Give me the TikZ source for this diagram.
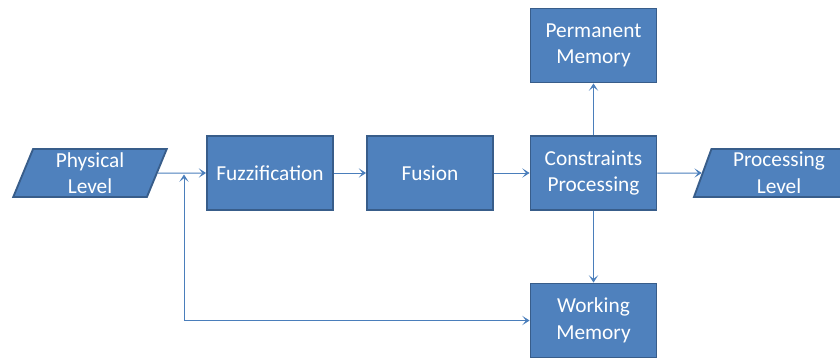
\documentclass[tikz,border=0pt]{standalone}
\usepackage{fontspec}
\setmainfont{Carlito}
\usetikzlibrary{positioning, arrows.meta, shapes.geometric}

\definecolor{boxfill}{HTML}{4F81BD}
\definecolor{boxedge}{HTML}{385D8A}
\definecolor{linkcol}{HTML}{4A7EBB}

\tikzset{
  blk/.style={draw=boxedge,fill=boxfill,line width=1.4pt,text=white,align=center,
              font=\fontsize{16}{20}\selectfont,minimum width=94.5pt,minimum height=55.5pt,inner sep=0pt},
  iobox/.style={blk,trapezium,trapezium left angle=74,trapezium right angle=106,
                trapezium stretches=true,minimum width=115.5pt,minimum height=36pt},
  link/.style={draw=linkcol,line width=0.75pt,->}
}

\begin{document}
\begin{tikzpicture}[x=0.75pt,y=-0.75pt,>={Stealth[length=5.5pt,width=7pt,inset=2.8pt]}]
  \useasboundingbox (0,0) rectangle (840,358);
  \clip (0,0) rectangle (840,358);
  % input / output levels
  \node[iobox](phys) at (90,173){Physical\\Level};
  \node[iobox,minimum width=128pt](proc) at (779,173){Processing\\Level};
  % processing chain
  \node[blk](fuzz) at (270,173){Fuzzification};
  \node[blk](fus) at (430,173){Fusion};
  \node[blk](cons) at (593.5,173){Constraints\\Processing};
  \node[blk](perm) at (593.5,45.5){Permanent\\Memory};
  \node[blk](work) at (593.5,320.5){Working\\Memory};
  \coordinate (jn) at (184,174.5);
  \draw[link](phys)--(fuzz);
  \draw[link](fuzz)--(fus);
  \draw[link](fus)--(cons);
  \draw[link](cons)--(proc);
  \draw[link](cons)--(perm);
  \draw[link](cons)--(work);
  \draw[link,<->](jn)|-(work.west);
\end{tikzpicture}
\end{document}
